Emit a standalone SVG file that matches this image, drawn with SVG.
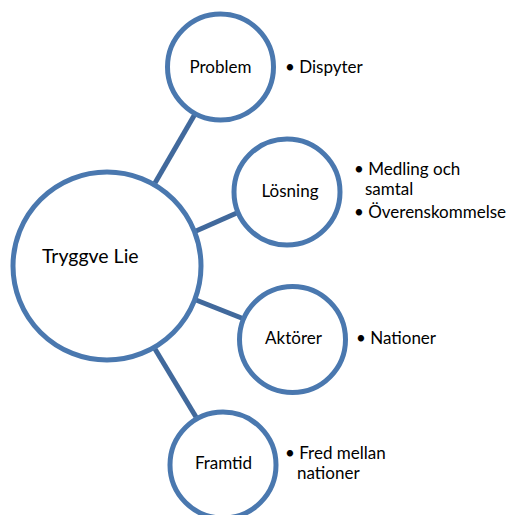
<svg xmlns="http://www.w3.org/2000/svg" width="508" height="515" viewBox="0 0 508 515">
<style>
.c{fill:#fff;stroke:#4A78AF;stroke-width:5}
.l{stroke:#41699C;stroke-width:5;fill:none}
text{font-family:Lato,"Open Sans","Liberation Sans",sans-serif;fill:#000}
.t{font-size:17px;text-anchor:middle}
.b{font-size:17px}
.big{font-size:19.5px}
</style>
<rect width="508" height="515" fill="#fff"/>
<g id="connectors">
<line class="l" x1="155" y1="183" x2="195" y2="114"/>
<line class="l" x1="196" y1="231" x2="239" y2="212"/>
<line class="l" x1="196" y1="300" x2="244" y2="319"/>
<line class="l" x1="155" y1="349" x2="196" y2="417"/>
</g>
<g id="tryggve">
<circle class="c" cx="107" cy="266" r="94"/>
<text class="big" x="42" y="263">Tryggve Lie</text>
</g>
<g id="problem">
<circle class="c" cx="220.5" cy="67" r="53"/>
<text class="t" x="220.5" y="73">Problem</text>
</g>
<g id="problem-notes">
<text class="b" x="285" y="73">• Dispyter</text>
</g>
<g id="losning">
<circle class="c" cx="287" cy="192" r="53"/>
<text class="t" x="290" y="197">Lösning</text>
</g>
<g id="losning-notes">
<text class="b" x="354" y="175">• Medling och</text>
<text class="b" x="365" y="195">samtal</text>
<text class="b" x="354" y="218">• Överenskommelse</text>
</g>
<g id="aktorer">
<circle class="c" cx="292.5" cy="339.5" r="53"/>
<text class="t" x="293.5" y="344">Aktörer</text>
</g>
<g id="aktorer-notes">
<text class="b" x="356" y="344">• Nationer</text>
</g>
<g id="framtid">
<circle class="c" cx="223" cy="465" r="53"/>
<text class="t" x="223.5" y="469">Framtid</text>
</g>
<g id="framtid-notes">
<text class="b" x="285" y="459">• Fred mellan</text>
<text class="b" x="297" y="479">nationer</text>
</g>
</svg>
